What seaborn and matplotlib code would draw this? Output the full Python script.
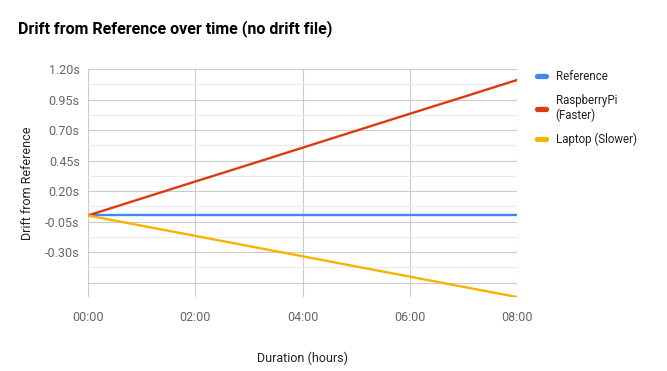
import matplotlib
matplotlib.use("Agg")
import matplotlib.pyplot as plt
import seaborn as sns
import pandas as pd
import numpy as np
from matplotlib.lines import Line2D

hours = [0, 1, 2, 3, 4, 5, 6, 7, 8]
reference = [0, 0, 0, 0, 0, 0, 0, 0, 0]
raspberrypi = [0, 0.139, 0.278, 0.416, 0.555, 0.694, 0.833, 0.971, 1.11]
laptop = [0, -0.084, -0.167, -0.251, -0.334, -0.418, -0.501, -0.585, -0.668]
series_names = ["Reference", "RaspberryPi\n(Faster)", "Laptop (Slower)"]
colors = ["#4285F4", "#DE3A12", "#F4B400"]
x_ticks = [0, 2, 4, 6, 8]
x_tick_labels = ["00:00", "02:00", "04:00", "06:00", "08:00"]
y_ticks = [-0.55, -0.30, -0.05, 0.20, 0.45, 0.70, 0.95, 1.20]
y_tick_labels = ["", "-0.30s", "-0.05s", "0.20s", "0.45s", "0.70s", "0.95s", "1.20s"]

df = pd.DataFrame({
    "hours": hours * 3,
    "drift": reference + raspberrypi + laptop,
    "series": [series_names[0]] * len(hours) + [series_names[1]] * len(hours) + [series_names[2]] * len(hours),
})

sns.set_theme(style="white")
plt.rcParams["font.family"] = ["Roboto", "DejaVu Sans"]

fig = plt.figure(figsize=(6.67, 3.71), dpi=100)
ax = fig.add_axes([88 / 667, 1 - 297 / 371, (517 - 88) / 667, (297 - 69) / 371])

sns.lineplot(data=df, x="hours", y="drift", hue="series", hue_order=series_names,
             palette=colors, linewidth=1.7, ax=ax, legend=False, zorder=3)

ax.set_xlim(0, 8)
ax.set_ylim(-0.668, 1.20)
ax.set_xticks(x_ticks)
ax.set_xticklabels(x_tick_labels)
ax.set_yticks(y_ticks)
ax.set_yticklabels(y_tick_labels)
minor = [v + 0.125 for v in y_ticks[:-1]]
ax.set_yticks(minor, minor=True)

ax.grid(axis="y", which="major", color="#cccccc", linewidth=0.8)
ax.grid(axis="y", which="minor", color="#ebebeb", linewidth=0.8)
ax.grid(axis="x", which="major", color="#cccccc", linewidth=0.8)
ax.set_axisbelow(True)
for s in ax.spines.values():
    s.set_visible(False)
ax.tick_params(axis="both", which="both", length=0, labelsize=9, labelcolor="#666666")
ax.tick_params(axis="x", pad=10)
ax.tick_params(axis="y", pad=6)

ax.set_xlabel("Duration (hours)", fontsize=9, color="#222222", labelpad=20)
ax.set_ylabel("Drift from Reference", fontsize=9, color="#222222", labelpad=8)

fig.text(18 / 667, 1 - 29 / 371, "Drift from Reference over time (no drift file)",
         fontsize=11.5, fontweight="bold", color="#000000", va="center", ha="left")

handles = [Line2D([0], [0], color=c, linewidth=3.8) for c in colors]
leg = ax.legend(handles, series_names, loc="upper left", bbox_to_anchor=(532 / 667, 1 - 65 / 371),
                bbox_transform=fig.transFigure, frameon=False, fontsize=8.3,
                handlelength=0.85, handletextpad=0.8, labelspacing=0.95, borderaxespad=0)
for t in leg.get_texts():
    t.set_color("#222222")

fig.savefig("out.png", dpi=100)
